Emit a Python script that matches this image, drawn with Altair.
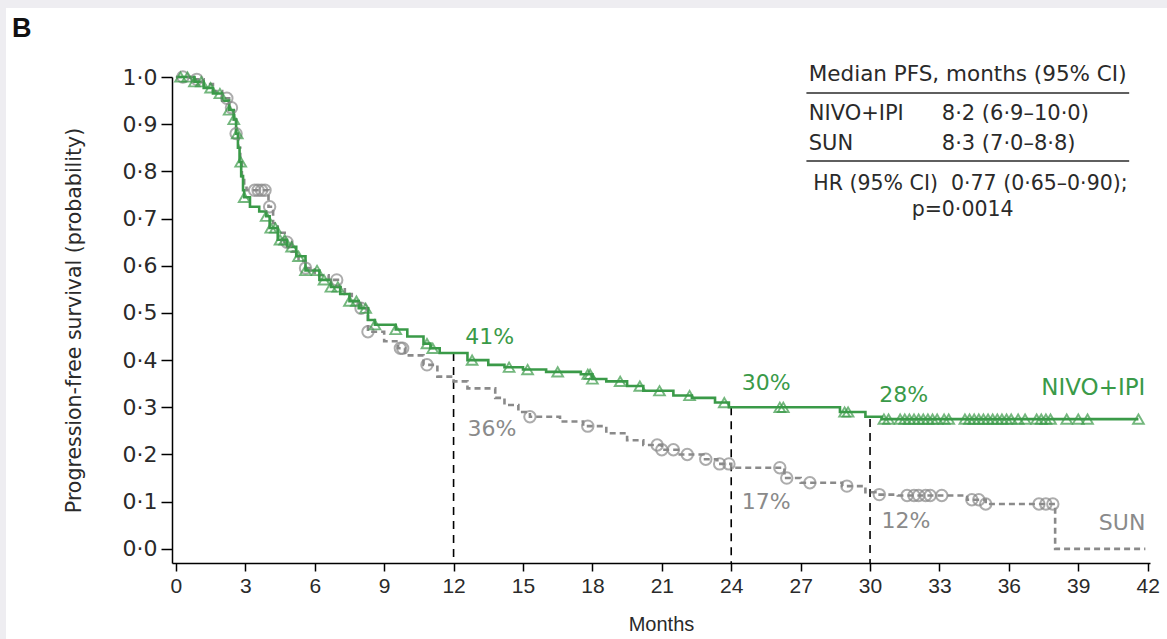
import altair as alt
import pandas as pd

# ---------------- data ----------------
nivo_t = [0, 0.8, 1.2, 1.6, 2.0, 2.3, 2.5, 2.6, 2.68, 2.75, 2.82, 2.9, 2.95, 3.2, 3.6, 3.9, 4.05,
          4.4, 4.8, 5.2, 5.6, 6.2, 6.7, 7.1, 7.5, 7.9, 8.3, 8.6, 9.5, 10.0, 10.7, 11.0, 11.4, 12.6,
          13.5, 14.2, 15.0, 16.0, 17.5, 18.0, 18.6, 19.5, 20.2, 21.5, 22.3, 23.3, 23.9, 28.7, 29.8,
          30.5, 41.6]
nivo_s = [1.0, 0.99, 0.977, 0.965, 0.95, 0.93, 0.91, 0.88, 0.85, 0.82, 0.79, 0.76, 0.745, 0.725,
          0.715, 0.705, 0.68, 0.655, 0.64, 0.62, 0.59, 0.57, 0.555, 0.54, 0.525, 0.51, 0.485,
          0.475, 0.465, 0.45, 0.435, 0.425, 0.415, 0.40, 0.39, 0.385, 0.38, 0.375, 0.37, 0.36,
          0.355, 0.345, 0.335, 0.325, 0.32, 0.31, 0.30, 0.29, 0.28, 0.275, 0.275]
nivo_cens = [0.2, 0.5, 0.8, 1.1, 1.5, 1.9, 2.3, 2.5, 2.65, 2.8, 2.95, 3.9, 4.1, 4.3, 4.5, 4.7, 5.0,
             5.3, 5.6, 6.1, 6.4, 6.7, 7.0, 7.5, 7.8, 8.2, 8.6, 9.5, 10.85, 11.1, 12.8, 14.4, 15.2,
             16.5, 17.8, 17.9, 18.0, 19.2, 20.05, 20.9, 22.2, 23.7, 26.1, 26.25, 28.9, 29.05, 30.6,
             30.8, 31.3, 31.5, 31.7, 31.9, 32.1, 32.3, 32.5, 32.7, 32.9, 33.2, 33.4, 34.1, 34.3,
             34.5, 34.7, 34.9, 35.1, 35.3, 35.5, 35.7, 35.9, 36.1, 36.4, 36.7, 37.2, 37.4, 37.6,
             37.8, 38.5, 39.0, 39.4, 41.6]

sun_t = [0, 0.6, 1.2, 1.6, 2.0, 2.3, 2.5, 2.6, 2.7, 2.78, 2.85, 2.95, 3.05, 4.0, 4.2, 4.4, 4.7,
         5.0, 5.3, 5.6, 6.0, 6.6, 7.0, 7.3, 7.6, 8.0, 8.3, 9.0, 9.6, 9.9, 10.7, 11.3, 12.0, 12.6,
         13.8, 14.2, 14.8, 15.3, 16.6, 17.6, 18.6, 19.5, 20.2, 21.0, 21.7, 22.8, 23.4, 24.0, 26.3,
         27.0, 28.8, 29.8, 30.3, 31.2, 34.2, 35.0, 38.0, 41.9]
sun_s = [1.0, 0.995, 0.985, 0.97, 0.955, 0.935, 0.91, 0.88, 0.85, 0.82, 0.79, 0.77, 0.76, 0.725,
         0.69, 0.67, 0.65, 0.63, 0.61, 0.595, 0.58, 0.57, 0.555, 0.54, 0.525, 0.51, 0.46, 0.44,
         0.425, 0.41, 0.39, 0.365, 0.355, 0.34, 0.32, 0.305, 0.29, 0.28, 0.27, 0.26, 0.245, 0.23,
         0.22, 0.21, 0.20, 0.19, 0.18, 0.172, 0.15, 0.14, 0.133, 0.12, 0.115, 0.113, 0.104, 0.095,
         0.0, 0.0]
sun_cens = [0.3, 0.9, 2.2, 2.4, 2.6, 3.4, 3.55, 3.7, 3.85, 4.05, 4.8, 5.6, 6.95, 8.0, 8.3, 9.7,
            9.8, 10.85, 15.3, 17.8, 20.8, 21.0, 21.5, 22.1, 22.9, 23.5, 23.9, 26.1, 26.4, 27.4,
            29.0, 30.4, 31.6, 31.9, 32.1, 32.4, 32.6, 33.1, 34.4, 34.7, 35.0, 37.3, 37.6, 37.9]

ref_t = [12, 24, 30]
ref_s = [0.415, 0.30, 0.275]

pct_text = ["41%", "36%", "30%", "17%", "28%", "12%"]
pct_t = [12.5, 12.6, 24.45, 24.45, 30.4, 30.5]
pct_s = [0.45, 0.255, 0.352, 0.10, 0.326, 0.06]
pct_arm = ["NIVO+IPI", "SUN", "NIVO+IPI", "SUN", "NIVO+IPI", "SUN"]

arm_names = ["NIVO+IPI", "SUN"]
arm_label_t = [41.9, 41.9]
arm_label_s = [0.34, 0.055]
arm_label_size = [23, 22]

table_rows = ["NIVO+IPI", "SUN"]
table_vals = ["8·2 (6·9–10·0)", "8·3 (7·0–8·8)"]
table_header = "Median PFS, months (95% CI)"
hr_label = "HR (95% CI)"
hr_value = "0·77 (0·65–0·90);"
p_value = "p=0·0014"
panel_letter = "B"

x_ticks = list(range(0, 43, 3))
y_ticks = [0.0, 0.1, 0.2, 0.3, 0.4, 0.5, 0.6, 0.7, 0.8, 0.9, 1.0]

GREEN = "#3a9a48"
GRAY = "#8a8a8a"
INK = "#2a2a2a"
FONT = "DejaVu Sans"
NARROW = "Liberation Sans"
XMIN, XMAX = -0.17, 42.1
YMIN, YMAX = -0.03, 1.0


def surv_at(ts, ss, t):
    v = ss[0]
    for ti, si in zip(ts, ss):
        if ti <= t:
            v = si
        else:
            break
    return v


nivo_df = pd.DataFrame({"t": nivo_t, "s": nivo_s})
sun_df = pd.DataFrame({"t": sun_t, "s": sun_s})
nivo_c = pd.DataFrame({"t": nivo_cens, "s": [surv_at(nivo_t, nivo_s, c) for c in nivo_cens]})
sun_c = pd.DataFrame({"t": sun_cens, "s": [surv_at(sun_t, sun_s, c) for c in sun_cens]})
ref_df = pd.DataFrame({"t": ref_t, "s": ref_s})
pct_df = pd.DataFrame({"t": pct_t, "s": pct_s, "label": pct_text, "arm": pct_arm})
arm_df = pd.DataFrame({"t": arm_label_t, "s": arm_label_s, "label": arm_names, "arm": arm_names,
                       "fs": arm_label_size})

xs = alt.Scale(domain=[XMIN, XMAX], nice=False, zero=False)
ys = alt.Scale(domain=[YMIN, YMAX], nice=False, zero=False)
col = alt.Scale(domain=arm_names, range=[GREEN, GRAY])

x_axis = alt.Axis(values=x_ticks, title="Months", labelFontSize=21, titleFontSize=20,
                  tickSize=8, labelPadding=4, titlePadding=18, grid=False,
                  domainColor="black", tickColor="black", domainWidth=1.5, tickWidth=1.5,
                  labelColor=INK, titleColor=INK, titleFontWeight="normal",
                  labelFont=NARROW, titleFont=NARROW, zindex=2)
y_axis = alt.Axis(values=y_ticks, title="Progression-free survival (probability)",
                  labelExpr="replace(format(datum.value, '.1f'), '.', '·')",
                  labelFontSize=22, titleFontSize=20.5, tickSize=11, labelPadding=4,
                  titlePadding=38, grid=False, domainColor="black", tickColor="black",
                  domainWidth=1.5, tickWidth=1.5, labelColor=INK, titleColor=INK,
                  titleFontWeight="normal", labelFont=FONT, titleFont=FONT, zindex=2)

X = alt.X("t:Q", scale=xs, axis=x_axis)
Y = alt.Y("s:Q", scale=ys, axis=y_axis)

W, H = 978, 486
frame = alt.Chart(pd.DataFrame({"k": [0]})).mark_rect(color="white").encode(
    x=alt.value(-166), x2=alt.value(W + 17), y=alt.value(-69), y2=alt.value(H + 76))
letter = alt.Chart(pd.DataFrame({"label": [panel_letter]})).mark_text(
    align="left", baseline="alphabetic", fontSize=27, fontWeight="bold", font=NARROW,
    color="#111").encode(x=alt.value(-160), y=alt.value(-40), text="label:N")

nivo_line = alt.Chart(nivo_df).mark_line(interpolate="step-after", color=GREEN, strokeWidth=2.6,
                                         clip=False).encode(x=X, y=Y)
sun_line = alt.Chart(sun_df).mark_line(interpolate="step-after", color=GRAY, strokeWidth=2.6,
                                       strokeDash=[6, 4], clip=False).encode(x="t:Q", y="s:Q")
nivo_pts = alt.Chart(nivo_c).mark_point(shape="triangle-up", filled=False, color=GREEN,
                                        strokeWidth=1.9, size=115).encode(x="t:Q", y="s:Q")
sun_pts = alt.Chart(sun_c).mark_point(shape="circle", filled=False, color=GRAY,
                                      strokeWidth=2.0, size=130).encode(x="t:Q", y="s:Q")
refs = alt.Chart(ref_df).mark_rule(color="black", strokeDash=[8, 6], strokeWidth=1.6).encode(
    x="t:Q", y="s:Q", y2=alt.datum(YMIN))

pct = alt.Chart(pct_df).mark_text(align="left", baseline="middle", fontSize=22, font=FONT).encode(
    x="t:Q", y="s:Q", text="label:N", color=alt.Color("arm:N", scale=col, legend=None))
arm_lbl = alt.Chart(arm_df).mark_text(align="right", baseline="middle", font=FONT).encode(
    x="t:Q", y="s:Q", text="label:N", color=alt.Color("arm:N", scale=col, legend=None),
    size=alt.Size("fs:Q", scale=None, legend=None))

# --- table in the top right ---
tab_x0 = 27.35
tab_x1 = 41.2
tab_xv = 33.1
head_df = pd.DataFrame({"t": [tab_x0], "s": [1.004], "label": [table_header]})
rows_df = pd.DataFrame({"t": [tab_x0, tab_x0], "s": [0.922, 0.858], "label": table_rows})
vals_df = pd.DataFrame({"t": [tab_xv, tab_xv], "s": [0.922, 0.858], "label": table_vals})
hr_df = pd.DataFrame({"t": [27.55], "s": [0.773], "label": [hr_label]})
hrv_df = pd.DataFrame({"t": [33.5], "s": [0.773], "label": [hr_value]})
p_df = pd.DataFrame({"t": [34.0], "s": [0.718], "label": [p_value]})
rule_df = pd.DataFrame({"t": [27.25, 27.25], "t2": [tab_x1, tab_x1], "s": [0.966, 0.822]})


def txt(df, align, size=21):
    return alt.Chart(df).mark_text(align=align, baseline="middle", fontSize=size, font=FONT,
                                   color=INK).encode(x="t:Q", y="s:Q", text="label:N")


table = (txt(head_df, "left", 21.5) + txt(rows_df, "left") + txt(vals_df, "left") +
         txt(hr_df, "left", 20.5) + txt(hrv_df, "left", 20.5) + txt(p_df, "center", 20.5) +
         alt.Chart(rule_df).mark_rule(color=INK, strokeWidth=1.5).encode(
             x="t:Q", x2="t2:Q", y="s:Q"))

chart = alt.layer(
    frame, letter, refs, sun_line, nivo_line, sun_pts, nivo_pts, pct, arm_lbl, table
).properties(
    width=W, height=H,
    autosize=alt.AutoSizeParams(type="none"),
    padding={"left": 172, "top": 77, "right": 17, "bottom": 76},
    background="#eeedf1",
).configure_view(strokeWidth=0)

chart.save("out.html", embed_options={"renderer": "svg", "actions": False})
